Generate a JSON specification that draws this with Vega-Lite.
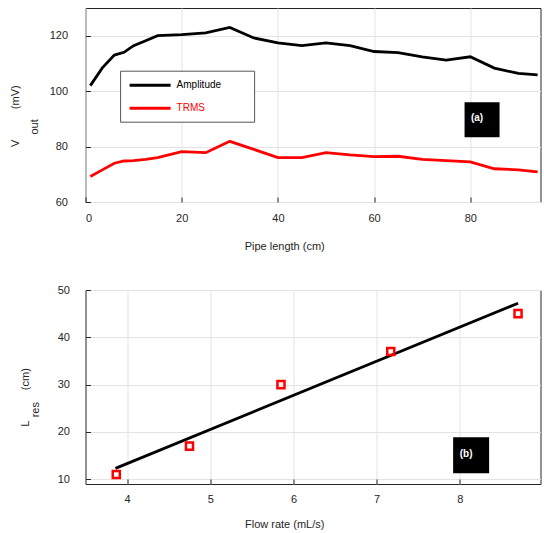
{
  "$schema": "https://vega.github.io/schema/vega-lite/v6.json",
  "padding": {"left": 8.5, "top": 7, "right": 0, "bottom": 0},
  "bounds": "flush",
  "spacing": 88,
  "background": "white",
  "config": {
    "view": {"stroke": "#262626", "strokeWidth": 1},
    "axis": {
      "labelFont": "Liberation Sans", "labelFontSize": 11, "labelColor": "#262626",
      "titleFont": "Liberation Sans", "titleFontSize": 11, "titleFontWeight": "normal", "titleColor": "#262626",
      "gridColor": "#e3e3e3", "domain": false, "tickColor": "#262626", "tickSize": -5
    }
  },
  "resolve": {"scale": {"color": "independent"}, "legend": {"color": "independent"}},
  "vconcat": [
    {
      "width": 455, "height": 194,
      "layer": [
        {
          "data": {"values": [
            {"x": 1, "series": "Amplitude", "y": 102.0}, {"x": 3.5, "series": "Amplitude", "y": 108.4},
            {"x": 6, "series": "Amplitude", "y": 113.0}, {"x": 8, "series": "Amplitude", "y": 114.0},
            {"x": 10, "series": "Amplitude", "y": 116.4}, {"x": 12.5, "series": "Amplitude", "y": 118.2},
            {"x": 15, "series": "Amplitude", "y": 120.0}, {"x": 20, "series": "Amplitude", "y": 120.4},
            {"x": 25, "series": "Amplitude", "y": 121.0}, {"x": 30, "series": "Amplitude", "y": 123.0},
            {"x": 35, "series": "Amplitude", "y": 119.2}, {"x": 40, "series": "Amplitude", "y": 117.4},
            {"x": 45, "series": "Amplitude", "y": 116.4}, {"x": 50, "series": "Amplitude", "y": 117.4},
            {"x": 55, "series": "Amplitude", "y": 116.4}, {"x": 60, "series": "Amplitude", "y": 114.3},
            {"x": 65, "series": "Amplitude", "y": 113.9}, {"x": 70, "series": "Amplitude", "y": 112.4},
            {"x": 75, "series": "Amplitude", "y": 111.2}, {"x": 80, "series": "Amplitude", "y": 112.4},
            {"x": 85, "series": "Amplitude", "y": 108.3}, {"x": 90, "series": "Amplitude", "y": 106.4},
            {"x": 94, "series": "Amplitude", "y": 105.9},
            {"x": 1, "series": "TRMS", "y": 69.2}, {"x": 3.5, "series": "TRMS", "y": 71.6},
            {"x": 6, "series": "TRMS", "y": 74.0}, {"x": 8, "series": "TRMS", "y": 74.8},
            {"x": 10, "series": "TRMS", "y": 74.9}, {"x": 12.5, "series": "TRMS", "y": 75.4},
            {"x": 15, "series": "TRMS", "y": 76.0}, {"x": 20, "series": "TRMS", "y": 78.2},
            {"x": 25, "series": "TRMS", "y": 77.8}, {"x": 30, "series": "TRMS", "y": 81.9},
            {"x": 35, "series": "TRMS", "y": 79.0}, {"x": 40, "series": "TRMS", "y": 76.0},
            {"x": 45, "series": "TRMS", "y": 76.0}, {"x": 50, "series": "TRMS", "y": 77.8},
            {"x": 55, "series": "TRMS", "y": 77.0}, {"x": 60, "series": "TRMS", "y": 76.4},
            {"x": 65, "series": "TRMS", "y": 76.5}, {"x": 70, "series": "TRMS", "y": 75.4},
            {"x": 75, "series": "TRMS", "y": 74.9}, {"x": 80, "series": "TRMS", "y": 74.5},
            {"x": 85, "series": "TRMS", "y": 72.0}, {"x": 90, "series": "TRMS", "y": 71.6},
            {"x": 94, "series": "TRMS", "y": 70.9}
          ]},
          "mark": {"type": "line", "strokeWidth": 2.8},
          "encoding": {
            "x": {"field": "x", "type": "quantitative",
              "scale": {"domain": [0, 94.6], "nice": false, "zero": false},
              "axis": {"values": [0, 20, 40, 60, 80], "title": "Pipe length (cm)", "titleX": 198.7, "titleY": 44, "titleBaseline": "middle", "labelPadding": 15}},
            "y": {"field": "y", "type": "quantitative",
              "scale": {"domain": [60, 130], "nice": false, "zero": false},
              "axis": {"values": [60, 80, 100, 120],
                "title": ["V\u00a0\u00a0\u00a0\u00a0\u00a0\u00a0\u00a0\u00a0\u00a0\u00a0(mV)", "out\u00a0\u00a0\u00a0\u00a0\u00a0\u00a0\u00a0\u200b"],
                "titleX": -70.4, "titleY": 107.7, "titleBaseline": "middle", "titleLineHeight": 19.5, "labelPadding": 23}},
            "color": {"field": "series", "type": "nominal",
              "scale": {"domain": ["Amplitude", "TRMS"], "range": ["black", "red"]},
              "legend": {
                "orient": "none", "legendX": 34.6, "legendY": 62.7, "title": null,
                "symbolType": "M-4,0H4", "symbolStrokeWidth": 3, "symbolSize": 105,
                "labelFontSize": 10, "labelFont": "Liberation Sans", "labelOffset": 19.5,
                "strokeColor": "#555555", "fillColor": "white", "padding": 7.5, "rowPadding": 10,
                "symbolOffset": 15.5,
                "labelExpr": "datum.label + '\u00a0\u00a0\u00a0\u00a0\u00a0\u00a0\u00a0\u00a0\u00a0\u200b'",
                "encode": {"labels": {"update": {"fill": {"signal": "datum.value === 'TRMS' ? 'red' : 'black'"}}}}
              }}
          }
        },
        {
          "data": {"values": [{"x": 82.45, "y": 89.7, "label": "(a)"}]},
          "mark": {"type": "point", "shape": "square", "filled": true, "color": "black", "size": 1225, "opacity": 1},
          "encoding": {"x": {"field": "x", "type": "quantitative"}, "y": {"field": "y", "type": "quantitative"}}
        },
        {
          "data": {"values": [{"x": 82.45, "y": 89.7, "label": "(a)"}]},
          "mark": {"type": "text", "color": "white", "font": "Liberation Sans", "fontWeight": "bold", "fontSize": 10, "dx": -5, "dy": -2},
          "encoding": {"x": {"field": "x", "type": "quantitative"}, "y": {"field": "y", "type": "quantitative"}, "text": {"field": "label"}}
        }
      ]
    },
    {
      "width": 455, "height": 194,
      "layer": [
        {
          "data": {"values": [{"flow": 3.86, "L": 12.3}, {"flow": 8.7, "L": 47.2}]},
          "mark": {"type": "line", "color": "black", "strokeWidth": 2.8},
          "encoding": {
            "x": {"field": "flow", "type": "quantitative",
              "scale": {"domain": [3.5, 8.97], "nice": false, "zero": false},
              "axis": {"values": [4, 5, 6, 7, 8], "format": "d", "title": "Flow rate (mL/s)", "titleX": 198.7, "titleY": 40, "titleBaseline": "middle", "labelPadding": 14.5}},
            "y": {"field": "L", "type": "quantitative",
              "scale": {"domain": [9, 50], "nice": false, "zero": false},
              "axis": {"values": [10, 20, 30, 40, 50],
                "title": ["L\u00a0\u00a0\u00a0\u00a0\u00a0\u00a0\u00a0\u00a0\u00a0\u00a0(cm)", "res\u00a0\u00a0\u00a0\u00a0\u00a0\u00a0\u00a0\u00a0\u200b"],
                "titleX": -60.5, "titleY": 107, "titleBaseline": "middle", "titleLineHeight": 10.6, "labelPadding": 21}}
          }
        },
        {
          "data": {"values": [{"flow": 3.87, "L": 11}, {"flow": 4.75, "L": 17}, {"flow": 5.85, "L": 30}, {"flow": 7.17, "L": 37}, {"flow": 8.7, "L": 45}]},
          "mark": {"type": "point", "shape": "square", "filled": false, "color": "red", "strokeWidth": 2.5, "size": 50, "opacity": 1},
          "encoding": {"x": {"field": "flow", "type": "quantitative"}, "y": {"field": "L", "type": "quantitative"}}
        },
        {
          "data": {"values": [{"flow": 8.136, "L": 15.09, "label": "(b)"}]},
          "mark": {"type": "point", "shape": "square", "filled": true, "color": "black", "size": 1296, "opacity": 1},
          "encoding": {"x": {"field": "flow", "type": "quantitative"}, "y": {"field": "L", "type": "quantitative"}}
        },
        {
          "data": {"values": [{"flow": 8.136, "L": 15.09, "label": "(b)"}]},
          "mark": {"type": "text", "color": "white", "font": "Liberation Sans", "fontWeight": "bold", "fontSize": 10, "dx": -5, "dy": -1.4},
          "encoding": {"x": {"field": "flow", "type": "quantitative"}, "y": {"field": "L", "type": "quantitative"}, "text": {"field": "label"}}
        }
      ]
    }
  ]
}
